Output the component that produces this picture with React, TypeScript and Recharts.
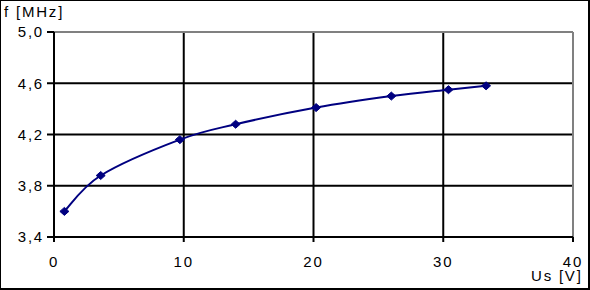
import { LineChart, Line, XAxis, YAxis, CartesianGrid, ReferenceLine } from 'recharts';

// supply voltage [V] vs. frequency [MHz]
const usVolts = [0.8, 3.6, 9.7, 14.0, 20.2, 26.0, 30.4, 33.3];
const freqMHz = [3.6, 3.88, 4.16, 4.28, 4.41, 4.5, 4.55, 4.58];

const xTicks = [0, 10, 20, 30, 40];
const yTicks = [3.4, 3.8, 4.2, 4.6, 5.0];

const data = usVolts.map((us, i) => ({ us, f: freqMHz[i] }));

const NAVY = '#000080';
const FONT = '"Liberation Sans", Arial, sans-serif';

// spreadsheet-style smoothing (Catmull-Rom with 1/6 tangents)
function smoothCurve(context: any) {
  let pts: [number, number][] = [];
  return {
    areaStart() {},
    areaEnd() {},
    lineStart() {
      pts = [];
    },
    lineEnd() {
      const n = pts.length;
      if (!n) return;
      context.moveTo(pts[0][0], pts[0][1]);
      for (let i = 0; i < n - 1; i++) {
        const p0 = pts[i > 0 ? i - 1 : i];
        const p1 = pts[i];
        const p2 = pts[i + 1];
        const p3 = pts[i + 2 < n ? i + 2 : i + 1];
        context.bezierCurveTo(
          p1[0] + (p2[0] - p0[0]) / 6,
          p1[1] + (p2[1] - p0[1]) / 6,
          p2[0] - (p3[0] - p1[0]) / 6,
          p2[1] - (p3[1] - p1[1]) / 6,
          p2[0],
          p2[1]
        );
      }
    },
    point(x: number, y: number) {
      pts.push([+x, +y]);
    },
  };
}

function Diamond(props: any) {
  const { cx, cy } = props;
  if (cx == null || cy == null) return null;
  return (
    <polygon
      points={`${cx - 4.5},${cy} ${cx},${cy - 4} ${cx + 4.5},${cy} ${cx},${cy + 4}`}
      fill={NAVY}
      stroke={NAVY}
      strokeWidth={1}
    />
  );
}

const fmtY = (v: number) => v.toFixed(1).replace('.', ',');

const tickStyle = { fill: '#000', fontSize: 15, fontFamily: FONT };

export default function App() {
  return (
    <div
      style={{
        position: 'absolute',
        left: 0,
        top: 0,
        width: 590,
        height: 290,
        background: '#fff',
        fontFamily: FONT,
        letterSpacing: '1.8px',
      }}
    >
      <LineChart
        width={590}
        height={290}
        data={data}
        margin={{ top: 32, right: 17, left: 14, bottom: 23 }}
      >
        <CartesianGrid stroke="#000" strokeWidth={2} />
        <XAxis
          dataKey="us"
          type="number"
          domain={[0, 40]}
          ticks={xTicks}
          height={30}
          axisLine={{ stroke: '#000', strokeWidth: 2 }}
          tickLine={{ stroke: '#000', strokeWidth: 2 }}
          tickSize={5}
          tickMargin={14}
          tick={tickStyle}
        />
        <YAxis
          type="number"
          domain={[3.4, 5.0]}
          ticks={yTicks}
          width={40}
          tickFormatter={fmtY}
          axisLine={{ stroke: '#000', strokeWidth: 2 }}
          tickLine={{ stroke: '#000', strokeWidth: 2 }}
          tickSize={7}
          tickMargin={3}
          tick={tickStyle}
        />
        <ReferenceLine y={5.0} stroke="#808080" strokeWidth={2} />
        <ReferenceLine x={40} stroke="#808080" strokeWidth={2} />
        <Line
          type={smoothCurve as any}
          dataKey="f"
          stroke={NAVY}
          strokeWidth={2}
          dot={<Diamond />}
          activeDot={false}
          isAnimationActive={false}
        />
      </LineChart>
      <div
        style={{
          position: 'absolute',
          left: 531,
          top: 268,
          fontSize: 15,
          lineHeight: '16px',
          color: '#000',
        }}
      >
        Us [V]
      </div>
      <div
        style={{
          position: 'absolute',
          left: 4,
          top: 3,
          fontSize: 15,
          lineHeight: '17px',
          color: '#000',
        }}
      >
        f [MHz]
      </div>
      <div
        style={{
          position: 'absolute',
          left: 0,
          top: 0,
          width: 587,
          height: 287,
          borderTop: '1px solid #000',
          borderLeft: '1px solid #000',
          borderRight: '2px solid #000',
          borderBottom: '2px solid #000',
          pointerEvents: 'none',
        }}
      />
    </div>
  );
}
